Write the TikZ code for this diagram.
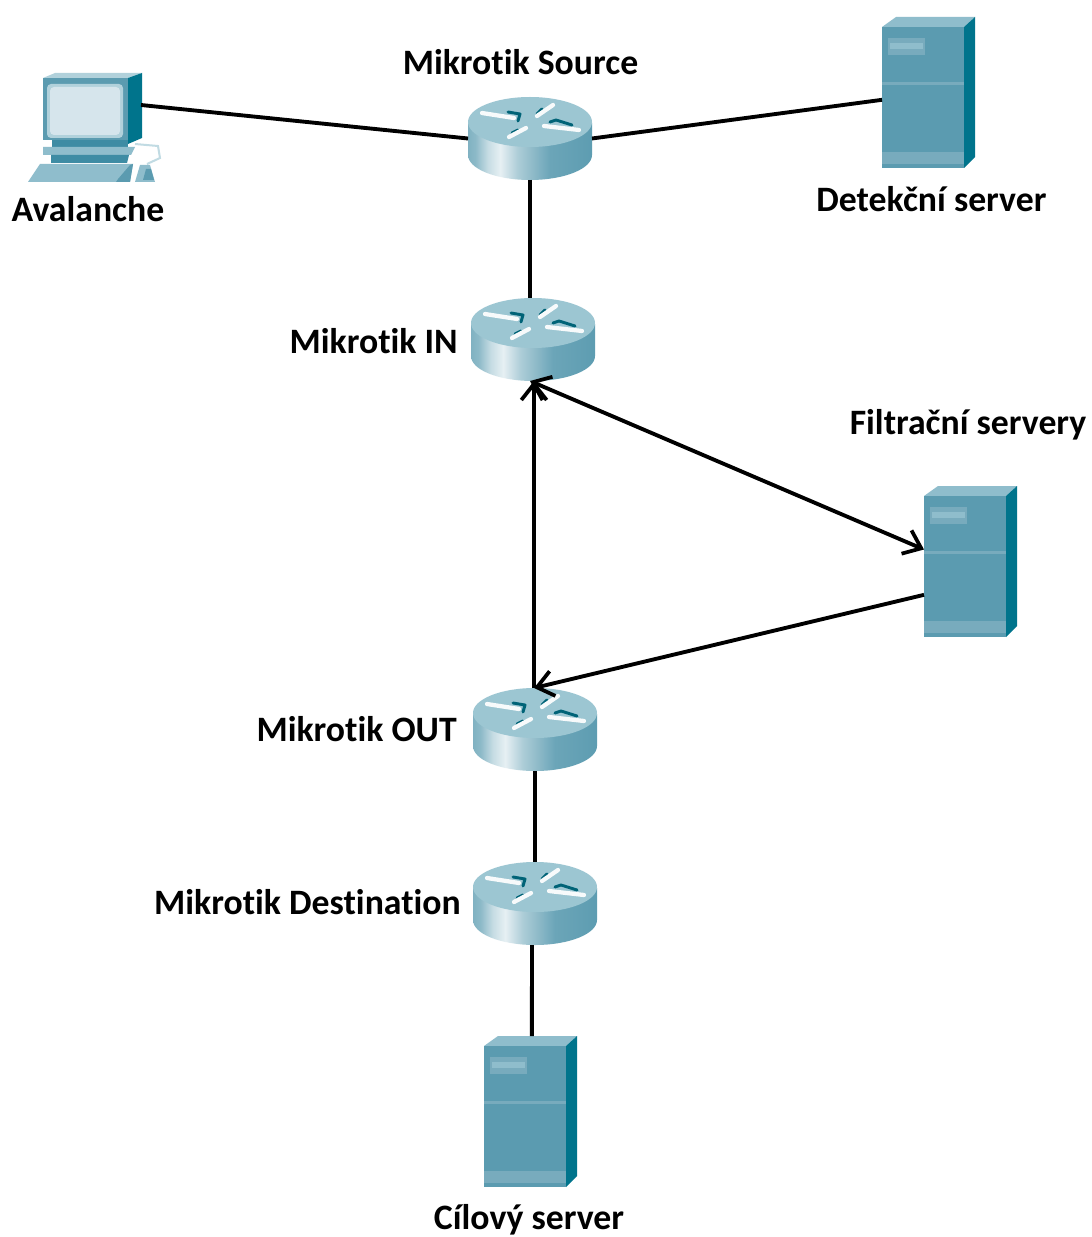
\documentclass[tikz,border=0pt]{standalone}
\usepackage{fontspec}
\setmainfont{Carlito}[Ligatures=NoCommon]
\usetikzlibrary{arrows.meta}
\definecolor{srvfront}{HTML}{5B9BB0}
\definecolor{srvtop}{HTML}{8FBDCC}
\definecolor{srvside}{HTML}{00748C}
\definecolor{srvlight}{HTML}{78ABBD}
\definecolor{rtrtop}{HTML}{9CC6D2}
\definecolor{pcscreen}{HTML}{D6E5EC}
\definecolor{pcmid}{HTML}{3E8CA4}
\pgfdeclarehorizontalshading{rtrbody}{100bp}{
  color(0bp)=(srvfront!70!white);
  color(20bp)=(srvfront!90!white);
  color(28bp)=(srvfront!70!white);
  color(33bp)=(srvfront!35!white);
  color(38bp)=(white!85!srvfront);
  color(45bp)=(srvfront!50!white);
  color(58bp)=(srvfront!90!white);
  color(78bp)=(srvfront);
  color(90bp)=(srvside!70!srvfront);
  color(100bp)=(srvside)}
\tikzset{
  x=0.75pt,y=-0.75pt,
  link/.style={line width=2.9pt,black},
  barbs/.style={-{Straight Barb[length=12pt,width=19pt,line width=2.8pt]}},
  bothbarbs/.style={{Straight Barb[length=12pt,width=19pt,line width=2.8pt]}-{Straight Barb[length=12pt,width=19pt,line width=2.8pt]}},
  lbl/.style={font=\fontsize{26.8}{29}\selectfont\bfseries,inner sep=0pt,text=black},
  icon/.style={inner sep=0pt,outer sep=0pt},
  rglyph/.style={line width=3.2pt,white!92!rtrtop,line cap=round,line join=round},
  rshadow/.style={line width=2.2pt,srvside!85!black,line cap=round,line join=round},
}
% router icon: 124 x 83, origin top left
\newcommand{\routerico}[2]{
  \begin{scope}[shift={(#1,#2)}]
    \path[shading=rtrbody] (0,26) -- (0,58) arc[start angle=180,end angle=0,x radius=62,y radius=25] -- (124,26) -- cycle;
    \fill[rtrtop] (62,25) ellipse[x radius=62,y radius=25];
    \draw[rshadow] (40,15) -- (52,17) -- (50,24);
    \draw[rglyph] (14,16) -- (46,21);
    \draw[rshadow] (69,17) -- (74,12);
    \draw[rglyph] (69,19) -- (85,8);
    \draw[rshadow] (82,25) -- (88,23) -- (104,28);
    \draw[rglyph] (76,29) -- (111,33);
    \draw[rshadow] (44,36) -- (50,33);
    \draw[rglyph] (41,40) -- (58,31);
  \end{scope}
}
% server icon: 93 x 151, origin top left
\newcommand{\serverico}[2]{
  \begin{scope}[shift={(#1,#2)}]
    \fill[srvtop] (0,10) -- (14,0) -- (93,0) -- (82,10) -- cycle;
    \fill[srvside] (82,10) -- (93,0) -- (93,140) -- (82,151) -- cycle;
    \fill[srvfront] (0,10) rectangle (82,151);
    \fill[srvlight] (6,21) rectangle (43,38);
    \fill[srvtop] (8,26) rectangle (41,32);
    \fill[srvlight] (0,65) rectangle (82,68);
    \fill[srvlight] (0,135) rectangle (82,147);
  \end{scope}
}
% computer icon
\newcommand{\pcico}[2]{
  \begin{scope}[shift={(#1,#2)}]
    \fill[srvtop!70!white] (0,4) -- (12,-1) -- (99,-1) -- (85,4) -- cycle;
    \fill[srvside] (85,4) -- (99,-1) -- (99,64) -- (85,70) -- cycle;
    \fill[srvfront] (0,4) rectangle (85,66);
    \fill[srvtop!70!white,rounded corners=3pt] (4,10) rectangle (80,64);
    \fill[pcscreen,rounded corners=3pt] (7,13) rectangle (77,61);
    \fill[pcmid] (9,66) rectangle (85,73);
    \fill[srvtop] (0,73) -- (92,73) -- (88,81) -- (0,81) -- cycle;
    \fill[pcmid] (8,81) -- (86,81) -- (84,89) -- (8,89) -- cycle;
    \fill[srvtop] (-3,90) -- (90,90) -- (87,108) -- (-15,108) -- cycle;
    \fill[srvfront] (75,105) -- (87,91) -- (90,90) -- (87,108) -- (73,108) -- cycle;
    \draw[srvtop!55!white,line width=1.5pt] (92,70) -- (115,72) -- (117,84) -- (104,90);
    \fill[srvtop] (97,91) -- (107,91) -- (112,108) -- (92,108) -- cycle;
    \fill[srvfront] (103,95) -- (108,95) -- (111,106) -- (100,106) -- cycle;
  \end{scope}
}
\begin{document}
\begin{tikzpicture}
\useasboundingbox (0,0) rectangle (1091,1237);
\fill[white] (0,0) rectangle (1091,1237);
% icons
\routerico{468}{97}
\routerico{471}{298}
\routerico{473}{688}
\routerico{473}{862}
\serverico{882}{17}
\serverico{924}{486}
\serverico{484}{1036}
\pcico{43}{74}
% named icon boxes
\node[icon,minimum width=93pt,minimum height=62.25pt] (source) at (530,138.5) {};
\node[icon,minimum width=93pt,minimum height=62.25pt] (min) at (533,339.5) {};
\node[icon,minimum width=93pt,minimum height=62.25pt] (mout) at (535,729.5) {};
\node[icon,minimum width=93pt,minimum height=62.25pt] (mdest) at (535,903.5) {};
\node[icon,minimum width=69.75pt,minimum height=113.25pt] (det) at (928.5,92.5) {};
\node[icon,minimum width=69.75pt,minimum height=113.25pt] (filt) at (970.5,561.5) {};
\node[icon,minimum width=69.75pt,minimum height=113.25pt] (target) at (530.5,1111.5) {};
\node[icon,minimum width=73.5pt,minimum height=39pt] (pc) at (92,105) {};
% connectors
\draw[link] (pc.east) -- (source.west);
\draw[link] (source.east) -- ([yshift=-5.5pt]det.west);
\draw[link] (source.south) -- ([xshift=-2.25pt]min.north);
\draw[link,barbs] ([xshift=-0.75pt]mout.north) -- ([xshift=0.75pt]min.south);
\draw[link,bothbarbs] ([xshift=-2.25pt]min.south) -- ([yshift=9pt]filt.west);
\draw[link,barbs] ([yshift=-25pt]filt.west) -- ([xshift=-0.75pt]mout.north);
\draw[link] (mout.south) -- (mdest.north);
\draw[link] ([xshift=-2.25pt]mdest.south) -- ([xshift=1pt]target.north);
% labels
\node[lbl] (lsource) at (520.5,62) {Mikrotik Source};
\node[lbl] (lpc) at (88,209) {Avalanche};
\node[lbl] (ldet) at (931.5,199) {Detekční server};
\node[lbl,anchor=east] (lin) at (458,341) {Mikrotik IN};
\node[lbl] (lfilt) at (968,425) {Filtrační servery};
\node[lbl,anchor=east] (lout) at (457,729) {Mikrotik OUT};
\node[lbl,anchor=east] (ldest) at (461,902) {Mikrotik Destination};
\node[lbl] (ltarget) at (529,1220) {Cílový server};
\end{tikzpicture}
\end{document}
